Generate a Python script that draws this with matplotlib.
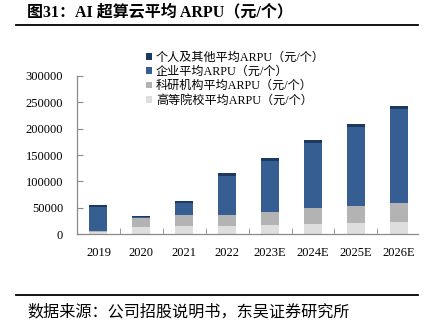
import numpy as np
import matplotlib
matplotlib.use("Agg")
import matplotlib.pyplot as plt
from matplotlib.lines import Line2D
from matplotlib.patches import Patch

# fonts: Times-like for latin/digits, CJK fallback for Chinese
fam = ['Liberation Serif', 'Noto Sans CJK SC']
plt.rcParams['font.family'] = fam

years = ['2019', '2020', '2021', '2022', '2023E', '2024E', '2025E', '2026E']
uni_arpu = [5000, 14500, 16300, 16300, 17600, 19500, 20800, 22700]        # 高等院校
lab_arpu = [1500, 17000, 20200, 20200, 24600, 29700, 32700, 36000]        # 科研机构
corp_arpu = [45500, 800, 23300, 73800, 95900, 124100, 150000, 178400]     # 企业
person_arpu = [3000, 2800, 3800, 5100, 5700, 5100, 5100, 5700]            # 个人及其他

names = ['个人及其他平均ARPU（元/个）', '企业平均ARPU（元/个）',
         '科研机构平均ARPU（元/个）', '高等院校平均ARPU（元/个）']
colors = ['#1c3a60', '#375e93', '#b3b3b3', '#dedede']

fig = plt.figure(figsize=(4.31, 3.24), dpi=100)
ax = fig.add_axes([0.1787, 0.2768, 0.7913, 0.4896])

x = np.arange(len(years))
w = 0.42
bottom = np.zeros(len(years))
for vals, c in zip([uni_arpu, lab_arpu, corp_arpu, person_arpu], colors[::-1]):
    ax.bar(x, vals, w, bottom=bottom, color=c, linewidth=0)
    bottom += np.array(vals)

ax.set_ylim(0, 300000)
ax.set_yticks(np.arange(0, 300001, 50000))
ax.set_xlim(-0.5, 7.45)
ax.set_xticks(x)
ax.set_xticklabels(years)
ax.set_xticks(np.arange(0.5, 7.5, 1), minor=True)
ax.tick_params(axis='x', which='major', length=0, pad=9, labelsize=9)
ax.tick_params(axis='x', which='minor', direction='in', length=4, color='#8a8a8a')
ax.tick_params(axis='y', direction='in', length=4, color='#8a8a8a', labelsize=9, pad=10)
for s in ['top', 'right']:
    ax.spines[s].set_visible(False)
for s in ['left', 'bottom']:
    ax.spines[s].set_color('#8a8a8a')
    ax.spines[s].set_linewidth(0.9)

handles = [Patch(facecolor=c, edgecolor='none') for c in colors]
fig.legend(handles, names, loc='upper left', bbox_to_anchor=(0.325, 0.86),
           frameon=False, prop={'family': fam, 'size': 8.7},
           handlelength=0.5, handleheight=0.5, handletextpad=0.3,
           labelspacing=0.2, borderpad=0)

# header and footer
fig.text(0.063, 0.962, '图31：AI 超算云平均 ARPU（元/个）', fontsize=11.5,
         fontweight='bold', va='center', ha='left', family=fam)
fig.add_artist(Line2D([0.037, 0.97], [0.923, 0.923], color='black', lw=1.3))
fig.add_artist(Line2D([0.037, 0.97], [0.0895, 0.0895], color='black', lw=1.3))
fig.text(0.063, 0.035, '数据来源：公司招股说明书，东吴证券研究所', fontsize=11.6,
         va='center', ha='left', family=fam)

fig.savefig('out.png', dpi=100)
